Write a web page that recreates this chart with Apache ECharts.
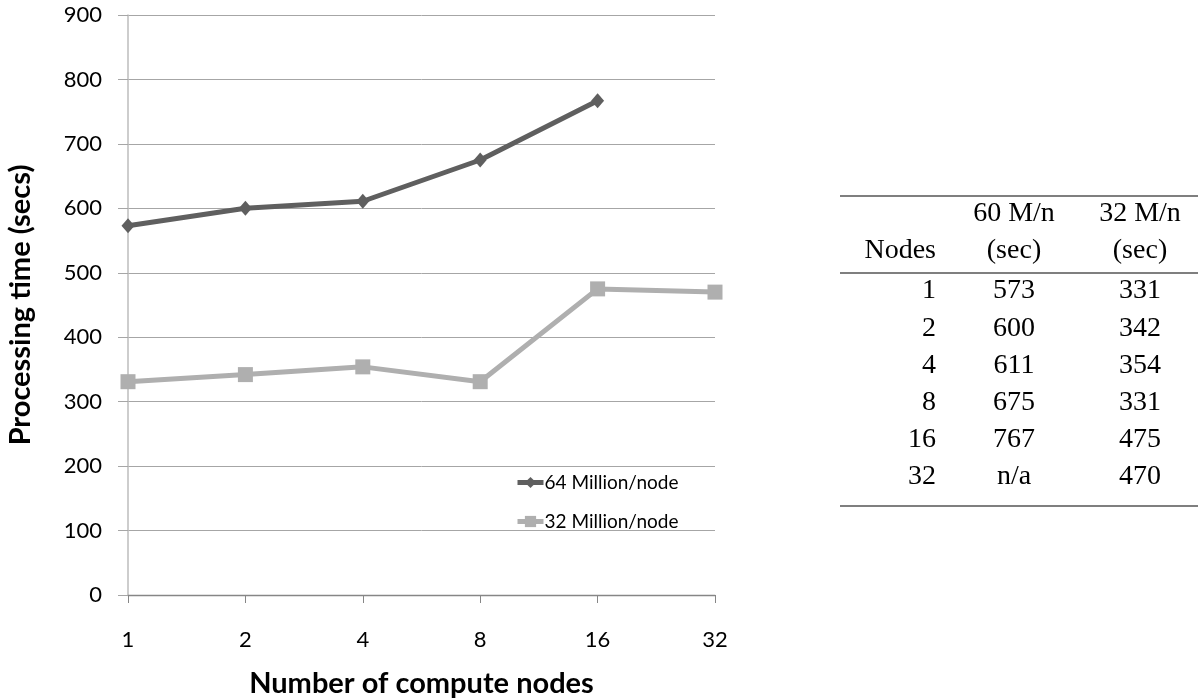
<!DOCTYPE html>
<html>
<head>
<meta charset="utf-8">
<script src="https://cdn.jsdelivr.net/npm/echarts@6/dist/echarts.min.js"></script>
<style>
html,body{margin:0;padding:0;background:#fff;}
#chart{width:1198px;height:698px;}
</style>
</head>
<body>
<div id="chart"></div>
<script>
// ---- data ----
var categories = ['1', '2', '4', '8', '16', '32'];
var series64 = [573, 600, 611, 675, 767, null];
var series32 = [331, 342, 354, 331, 475, 470];
var seriesNames = ['64 Million/node', '32 Million/node'];
var yTicks = [0, 100, 200, 300, 400, 500, 600, 700, 800, 900];
var tableHeader1 = ['', '60 M/n', '32 M/n'];
var tableHeader2 = ['Nodes', '(sec)', '(sec)'];

// ---- table graphic built from data ----
var serif = '"Liberation Serif", "Times New Roman", serif';
var tFont = 28;
var colX = [936, 1014, 1140];
var colAlign = ['right', 'center', 'center'];
var headY = [214, 251];
var rowY0 = 291, rowStep = 37.2;
var graphics = [];
function addText(x, y, s, align) {
  graphics.push({
    type: 'text', x: x, y: y,
    style: { text: s, font: tFont + 'px ' + serif, fill: '#000', textAlign: align, textVerticalAlign: 'middle' }
  });
}
[tableHeader1, tableHeader2].forEach(function (row, r) {
  row.forEach(function (s, c) { if (s) addText(colX[c], headY[r], s, colAlign[c]); });
});
categories.forEach(function (cat, i) {
  var y = rowY0 + i * rowStep;
  var v1 = series64[i] == null ? 'n/a' : String(series64[i]);
  var v2 = series32[i] == null ? 'n/a' : String(series32[i]);
  addText(colX[0], y, cat, colAlign[0]);
  addText(colX[1], y, v1, colAlign[1]);
  addText(colX[2], y, v2, colAlign[2]);
});
[196, 273, 506].forEach(function (y) {
  graphics.push({
    type: 'line', shape: { x1: 840, y1: y, x2: 1198, y2: y },
    style: { stroke: '#555', lineWidth: 1.6 }
  });
});

var sans = 'Lato, "Open Sans", sans-serif';
var chart = echarts.init(document.getElementById('chart'));
chart.setOption({
  animation: false,
  backgroundColor: '#fff',
  grid: { left: 128, right: 483, top: 15, bottom: 103, containLabel: false, outerBoundsMode: 'none' },
  legend: {
    orient: 'vertical',
    left: 515, top: 473, padding: 0,
    itemWidth: 26, itemHeight: 14, itemGap: 20,
    lineStyle: { width: 5 },
    textStyle: { fontFamily: sans, fontSize: 19, color: '#000', padding: [0, 0, 0, -4] },
    data: seriesNames
  },
  xAxis: {
    type: 'category',
    data: categories,
    boundaryGap: false,
    name: 'Number of compute nodes',
    nameLocation: 'middle',
    nameGap: 74,
    nameTextStyle: { fontFamily: sans, fontSize: 29, fontWeight: 'bold', color: '#000', lineHeight: 30 },
    axisLine: { lineStyle: { color: '#868686', width: 1.3 } },
    axisTick: { show: true, alignWithLabel: true, length: 8, lineStyle: { color: '#868686' } },
    axisLabel: { fontFamily: sans, fontSize: 22, color: '#000', margin: 34 },
    splitLine: { show: false }
  },
  yAxis: {
    type: 'value',
    min: 0, max: 900, interval: 100,
    name: 'Processing time (secs)',
    nameLocation: 'middle',
    nameGap: 93,
    nameTextStyle: { fontFamily: sans, fontSize: 29, fontWeight: 'bold', color: '#000' },
    axisLine: { show: true, lineStyle: { color: '#bdbdbd', width: 1.5 } },
    axisTick: { show: true, length: 10, lineStyle: { color: '#a6a6a6' } },
    axisLabel: {
      fontFamily: sans, fontSize: 22, color: '#000', margin: 26,
      formatter: function (v) { return yTicks.indexOf(v) >= 0 ? String(v) : ''; }
    },
    splitLine: { show: true, lineStyle: { color: '#a6a6a6', width: 1 } }
  },
  series: [
    {
      name: seriesNames[0], type: 'line', data: series64,
      symbol: 'diamond', symbolSize: [13, 15],
      lineStyle: { color: '#5f5f5f', width: 5 },
      itemStyle: { color: '#5f5f5f' },
      connectNulls: false, z: 3
    },
    {
      name: seriesNames[1], type: 'line', data: series32,
      symbol: 'rect', symbolSize: 15,
      lineStyle: { color: '#afafaf', width: 5 },
      itemStyle: { color: '#afafaf' },
      z: 2
    }
  ],
  graphic: graphics
});
</script>
</body>
</html>
